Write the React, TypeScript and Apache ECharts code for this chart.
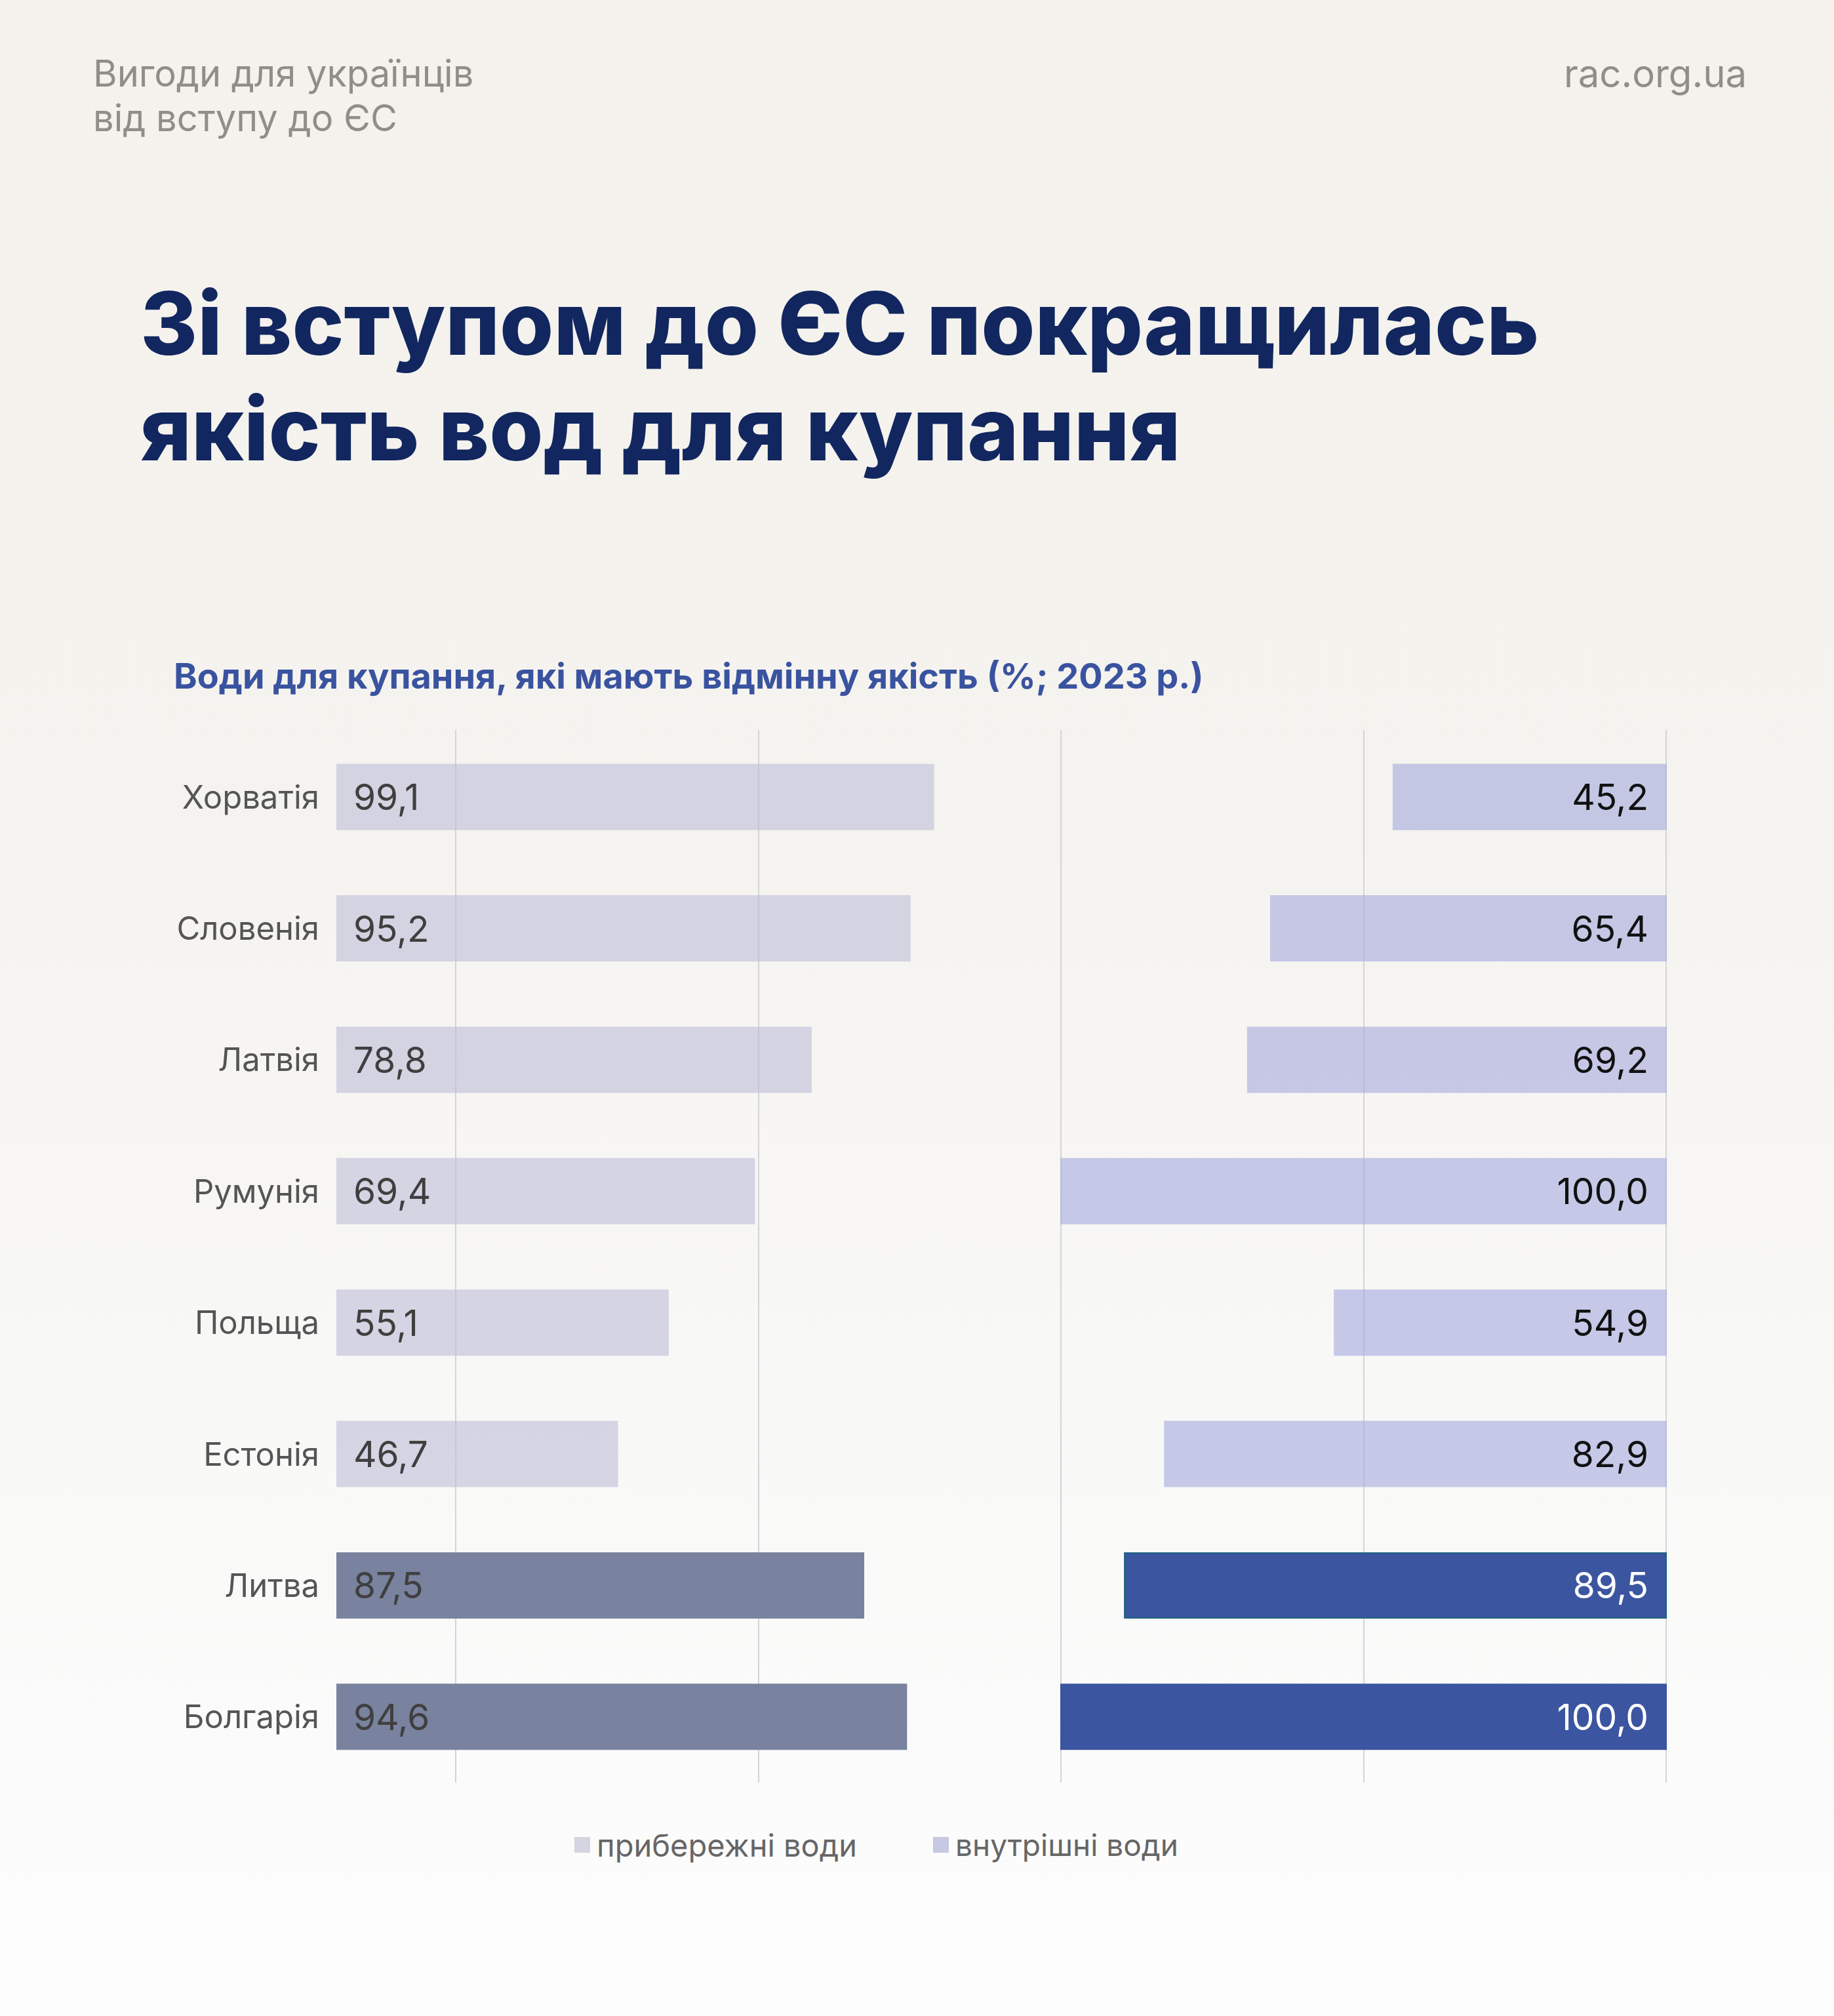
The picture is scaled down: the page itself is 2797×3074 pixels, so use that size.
import React, { useEffect, useRef } from "react";
import * as echarts from "echarts";

const categories = ["Хорватія", "Словенія", "Латвія", "Румунія", "Польща", "Естонія", "Литва", "Болгарія"];
const coastal = [99.1, 95.2, 78.8, 69.4, 55.1, 46.7, 87.5, 94.6];
const inland = [45.2, 65.4, 69.2, 100.0, 54.9, 82.9, 89.5, 100.0];
const highlighted = ["Литва", "Болгарія"];
const gridTicks = [0, 1, 2, 3, 4];

const FONT = "Inter, 'Open Sans', sans-serif";
const fmt = (v: number) => v.toFixed(1).replace(".", ",");

export default function App() {
  const ref = useRef<HTMLDivElement>(null);
  useEffect(() => {
    document.body.style.margin = "0";
    const chart = echarts.init(ref.current!, null, { renderer: "svg" });
    const coastalData = coastal.map((v, i) => {
      const hi = highlighted.includes(categories[i]);
      return {
        value: v,
        itemStyle: hi ? { color: "#79829E" } : { color: "rgba(190,191,216,0.62)" },
      };
    });
    const inlandData = inland.map((v, i) => {
      const hi = highlighted.includes(categories[i]);
      return {
        value: v,
        itemStyle: hi
          ? { color: "#3B55A0", borderColor: i === 6 ? "#1D6180" : "#3B55A0", borderWidth: i === 6 ? 2 : 0 }
          : { color: "rgba(167,171,221,0.62)" },
        label: { color: hi ? "#FFFFFF" : "#111111" },
      };
    });
    const grids = [
      { left: 695, width: 1846, top: 1113, height: 1605 },
      { left: 513, width: 920, top: 1115, height: 1603 },
      { left: 1617, width: 925, top: 1115, height: 1603 },
    ];
    const titleStyle = { fontFamily: FONT, fontSize: 133, lineHeight: 161, fontWeight: 800, color: "#12275F" };
    chart.setOption({
      animation: false,
      backgroundColor: "transparent",
      title: [
        {
          text: "Вигоди для українців\nвід вступу до ЄС",
          left: 142,
          top: 78,
          padding: 0,
          textStyle: { fontFamily: FONT, fontSize: 56, lineHeight: 68, fontWeight: 400, color: "#8F8E8A" },
        },
        {
          text: "rac.org.ua",
          right: 133,
          top: 78,
          padding: 0,
          textStyle: { fontFamily: FONT, fontSize: 58, lineHeight: 68, fontWeight: 400, color: "#8F8E8A" },
        },
        {
          text: "Зі вступом до ЄС покращилась",
          left: 214,
          top: 412,
          padding: 0,
          textStyle: titleStyle,
        },
        {
          text: "якість вод для купання",
          left: 214,
          top: 573,
          padding: 0,
          textStyle: titleStyle,
        },
        {
          text: "Води для купання, які мають відмінну якість (%; 2023 р.)",
          left: 265,
          top: 999,
          padding: 0,
          textStyle: { fontFamily: FONT, fontSize: 54, lineHeight: 62, fontWeight: 700, color: "#3A53A0" },
        },
      ],
      legend: [
        {
          left: 876,
          top: 2789,
          padding: 0,
          itemWidth: 24,
          itemHeight: 24,
          icon: "rect",
          data: [{ name: "прибережні води", itemStyle: { color: "#D5D5E1" } }],
          textStyle: { fontFamily: FONT, fontSize: 47, lineHeight: 48, color: "#666666", padding: [0, 0, 0, 5] },
        },
        {
          left: 1423,
          top: 2789,
          padding: 0,
          itemWidth: 24,
          itemHeight: 24,
          icon: "rect",
          data: [{ name: "внутрішні води", itemStyle: { color: "#C6C8E4" } }],
          textStyle: { fontFamily: FONT, fontSize: 46, lineHeight: 48, color: "#666666", padding: [0, 0, 0, 5] },
        },
      ],
      grid: grids,
      xAxis: [
        {
          gridIndex: 0,
          type: "value",
          min: gridTicks[0],
          max: gridTicks[gridTicks.length - 1],
          interval: 1,
          axisLine: { show: false },
          axisTick: { show: false },
          axisLabel: { show: false },
          splitLine: { show: true, lineStyle: { color: "#D3D4D6", width: 2 } },
        },
        {
          gridIndex: 1,
          type: "value",
          min: 0,
          max: 100,
          axisLine: { show: false },
          axisTick: { show: false },
          axisLabel: { show: false },
          splitLine: { show: false },
        },
        {
          gridIndex: 2,
          type: "value",
          min: 0,
          max: 100,
          inverse: true,
          axisLine: { show: false },
          axisTick: { show: false },
          axisLabel: { show: false },
          splitLine: { show: false },
        },
      ],
      yAxis: [
        {
          gridIndex: 0,
          type: "category",
          data: categories,
          show: false,
        },
        {
          gridIndex: 1,
          type: "category",
          data: categories,
          inverse: true,
          axisLine: { show: false },
          axisTick: { show: false },
          axisLabel: { margin: 26, fontFamily: FONT, fontSize: 49, color: "#555555" },
          splitLine: { show: false },
        },
        {
          gridIndex: 2,
          type: "category",
          data: categories,
          inverse: true,
          show: false,
        },
      ],
      series: [
        {
          name: "прибережні води",
          type: "bar",
          xAxisIndex: 1,
          yAxisIndex: 1,
          barWidth: 101,
          data: coastalData,
          label: {
            show: true,
            position: "insideLeft",
            distance: 26,
            fontFamily: FONT,
            fontSize: 55,
            color: "#3F3F3F",
            formatter: (p: any) => fmt(p.value),
          },
        },
        {
          name: "внутрішні води",
          type: "bar",
          xAxisIndex: 2,
          yAxisIndex: 2,
          barWidth: 101,
          data: inlandData,
          label: {
            show: true,
            position: "insideRight",
            distance: 28,
            fontFamily: FONT,
            fontSize: 55,
            formatter: (p: any) => fmt(p.value),
          },
        },
      ],
    });
    return () => chart.dispose();
  }, []);
  return (
    <div
      ref={ref}
      style={{
        width: 2797,
        height: 3074,
        background: "linear-gradient(180deg, #F5F2ED 0%, #F5F3EF 40%, #F9F9F8 75%, #FDFDFD 100%)",
      }}
    />
  );
}
